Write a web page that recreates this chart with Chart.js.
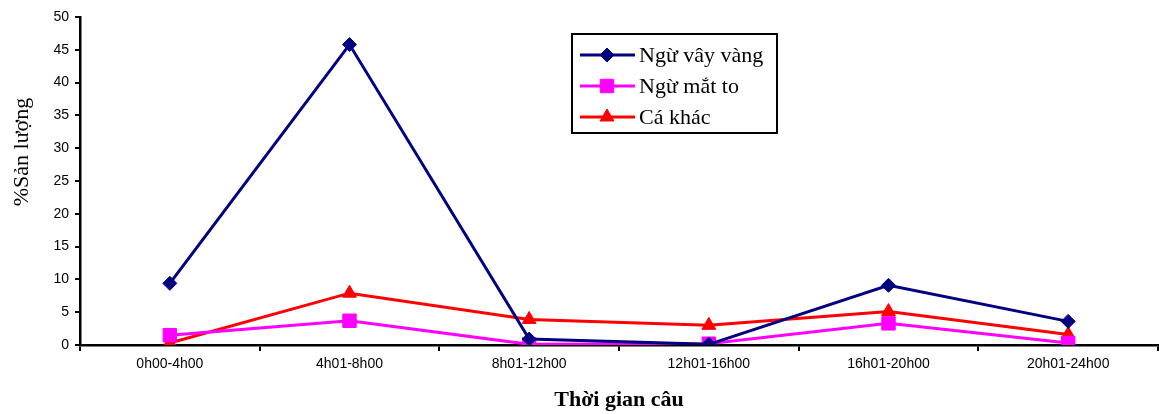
<!DOCTYPE html>
<html>
<head>
<meta charset="utf-8">
<script src="https://cdn.jsdelivr.net/npm/chart.js@4/dist/chart.umd.min.js"></script>
<style>
html,body{margin:0;padding:0;background:#fff;}
#wrap{width:1159px;height:414px;}
</style>
</head>
<body>
<div id="wrap"><canvas id="c" width="1159" height="414"></canvas></div>
<script>
const categories = ["0h00-4h00","4h01-8h00","8h01-12h00","12h01-16h00","16h01-20h00","20h01-24h00"];
const nguVayVang = [9.4, 45.8, 0.9, 0.1, 9.1, 3.6];
const nguMatTo = [1.5, 3.7, 0.1, 0.2, 3.3, 0.3];
const caKhac = [0.3, 7.9, 3.9, 3.0, 5.1, 1.6];
const seriesNames = ["Ngừ vây vàng","Ngừ mắt to","Cá khác"];
const yTicksStep = 5;
const yTitle = "%Sản lượng";
const xTitle = "Thời gian câu";

const extras = {
  id: 'extras',
  afterDraw(chart) {
    const ctx = chart.ctx;
    ctx.save();
    // y-axis title
    ctx.translate(22, 152);
    ctx.rotate(-Math.PI / 2);
    ctx.fillStyle = '#000';
    ctx.font = '22px "Liberation Serif", "Times New Roman", serif';
    ctx.textAlign = 'center';
    ctx.textBaseline = 'middle';
    ctx.fillText(yTitle, 0, 0);
    ctx.restore();

    // legend
    ctx.save();
    const x0 = 572, y0 = 34, w = 205, h = 99;
    ctx.fillStyle = '#fff';
    ctx.fillRect(x0, y0, w, h);
    ctx.strokeStyle = '#000';
    ctx.lineWidth = 2;
    ctx.strokeRect(x0, y0, w, h);
    const rows = [55, 86, 117];
    chart.data.datasets.forEach((ds, i) => {
      const y = rows[i];
      ctx.strokeStyle = ds.borderColor;
      ctx.lineWidth = 3;
      ctx.beginPath();
      ctx.moveTo(580, y);
      ctx.lineTo(635, y);
      ctx.stroke();
      ctx.fillStyle = ds.backgroundColor;
      ctx.strokeStyle = ds.borderColor;
      ctx.lineWidth = 1;
      Chart.helpers.drawPoint(ctx, {pointStyle: ds.pointStyle, radius: ds.pointRadius, borderWidth: 1, rotation: 0}, 607, y);
      ctx.fillStyle = '#000';
      ctx.font = '22px "Liberation Serif", "Times New Roman", serif';
      ctx.textBaseline = 'middle';
      ctx.textAlign = 'left';
      ctx.fillText(ds.label, 639, y + 1);
    });
    ctx.restore();
  }
};

function mkDs(label, data, color, style, r) {
  return {
    label: label, data: data,
    borderColor: color, backgroundColor: color,
    pointBackgroundColor: color, pointBorderColor: color,
    pointStyle: style, pointRadius: r, pointHoverRadius: r, pointBorderWidth: 1,
    borderWidth: 3, tension: 0, fill: false
  };
}

new Chart(document.getElementById('c'), {
  type: 'line',
  data: {
    labels: categories,
    datasets: [
      mkDs(seriesNames[0], nguVayVang, '#000080', 'rectRot', 7),
      mkDs(seriesNames[1], nguMatTo, '#FF00FF', 'rect', 9.5),
      mkDs(seriesNames[2], caKhac, '#FF0000', 'triangle', 8)
    ]
  },
  options: {
    responsive: false,
    animation: false,
    events: [],
    layout: { autoPadding: false, padding: { top: 17, right: 1, left: 0, bottom: 0 } },
    plugins: { legend: { display: false }, tooltip: { enabled: false } },
    scales: {
      x: {
        offset: true,
        grid: { display: true, offset: true, drawOnChartArea: false, drawTicks: true, tickLength: 6, color: '#000', lineWidth: 2 },
        border: { display: true, color: '#000', width: 2.5 },
        ticks: { color: '#000', font: { family: '"Liberation Sans", Arial, sans-serif', size: 14 }, padding: 5, maxRotation: 0, autoSkip: false },
        title: { display: true, text: xTitle, color: '#000', font: { family: '"Liberation Serif", "Times New Roman", serif', size: 22, weight: 'bold' }, padding: { top: 12, bottom: 0 } },
        afterFit(s) { s.height = 69; }
      },
      y: {
        min: 0, max: 50,
        grid: { display: true, drawOnChartArea: false, drawTicks: true, tickLength: 5, color: '#000', lineWidth: 2 },
        border: { display: true, color: '#000', width: 2.5 },
        ticks: { stepSize: yTicksStep, color: '#000', font: { family: '"Liberation Sans", Arial, sans-serif', size: 14 }, padding: 6 },
        afterFit(s) { s.width = 80; }
      }
    }
  },
  plugins: [extras]
});
</script>
</body>
</html>
